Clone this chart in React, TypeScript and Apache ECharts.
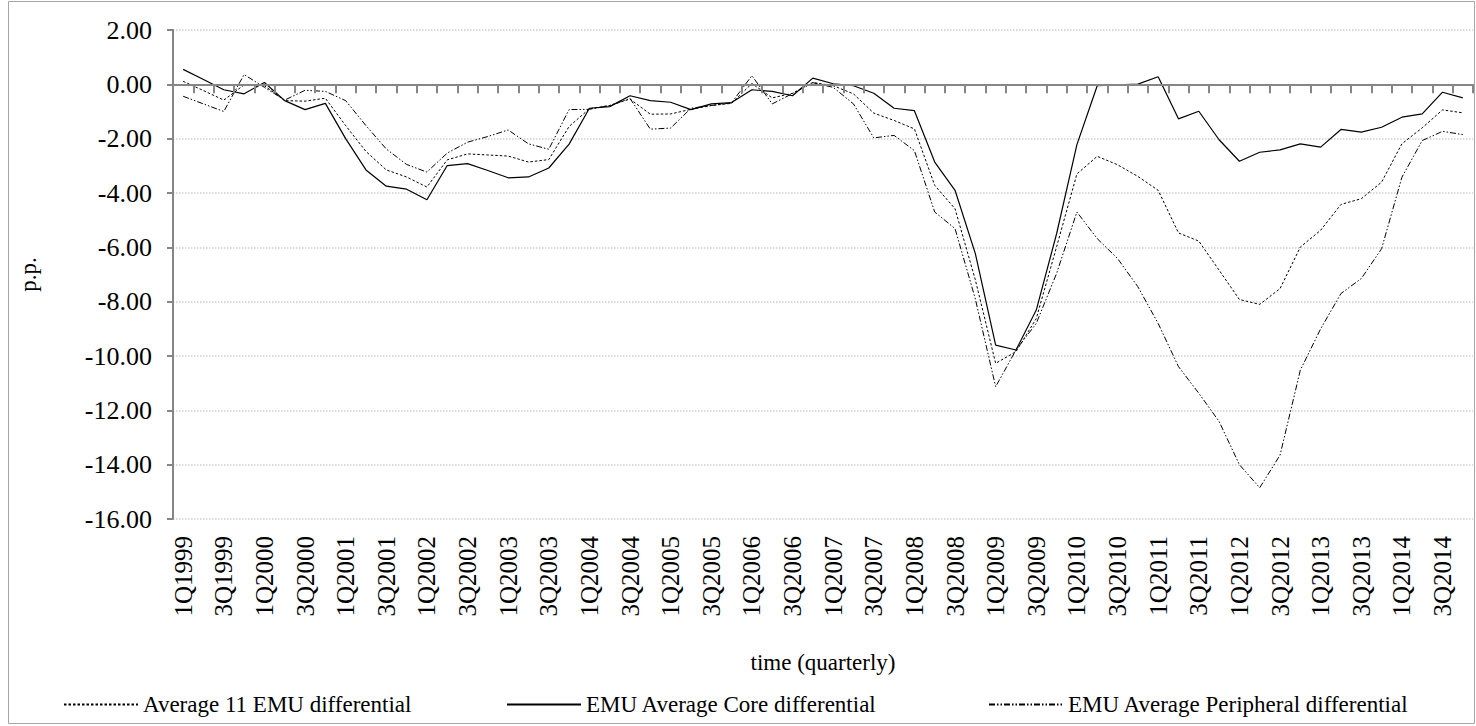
import React, { useEffect, useRef } from "react";
import * as echarts from "echarts";

const years = [1999, 2000, 2001, 2002, 2003, 2004, 2005, 2006, 2007, 2008, 2009, 2010, 2011, 2012, 2013, 2014];
const quarterNames = ["1Q", "2Q", "3Q", "4Q"];
const categories: string[] = [];
years.forEach((y) => quarterNames.forEach((q) => categories.push(q + y)));

const avg11 = [
  0.11, -0.23, -0.58, -0.02, -0.05, -0.6, -0.62, -0.51, -1.52, -2.47, -3.15, -3.41, -3.78, -2.78, -2.56, -2.6,
  -2.64, -2.86, -2.77, -1.55, -0.9, -0.78, -0.54, -1.1, -1.09, -0.92, -0.78, -0.7, 0.03, -0.5, -0.33, 0.07,
  -0.05, -0.35, -1.06, -1.33, -1.64, -3.72, -4.58, -7.2, -10.27, -9.84, -8.62, -5.98, -3.3, -2.65, -2.96, -3.39,
  -3.9, -5.47, -5.77, -6.84, -7.92, -8.1, -7.52, -5.99, -5.37, -4.42, -4.21, -3.6, -2.19, -1.6, -0.94, -1.05,
];

const core = [
  0.55, 0.18, -0.2, -0.35, 0.07, -0.6, -0.93, -0.7, -2.0, -3.15, -3.75, -3.86, -4.25, -2.99, -2.92, -3.17,
  -3.44, -3.41, -3.08, -2.2, -0.88, -0.82, -0.42, -0.6, -0.66, -0.93, -0.72, -0.67, -0.2, -0.26, -0.42, 0.23,
  0.02, -0.05, -0.33, -0.88, -0.97, -2.86, -3.9, -6.23, -9.6, -9.78, -8.31, -5.5, -2.22, -0.05, -0.02, 0.01,
  0.28, -1.27, -0.99, -2.04, -2.83, -2.5, -2.41, -2.19, -2.31, -1.66, -1.76, -1.58, -1.21, -1.09, -0.29, -0.5,
];

const peripheral = [
  -0.44, -0.72, -1.0, 0.36, -0.11, -0.58, -0.22, -0.26, -0.6, -1.52, -2.38, -2.95, -3.23, -2.53, -2.13, -1.92,
  -1.68, -2.19, -2.39, -0.93, -0.92, -0.78, -0.52, -1.65, -1.61, -0.88, -0.78, -0.68, 0.32, -0.72, -0.34, 0.06,
  -0.11, -0.72, -1.97, -1.88, -2.44, -4.7, -5.31, -7.9, -11.13, -9.78, -8.8, -6.96, -4.7, -5.68, -6.41, -7.45,
  -8.8, -10.39, -11.37, -12.41, -14.0, -14.85, -13.65, -10.52, -9.0, -7.7, -7.15, -6.05, -3.42, -2.07, -1.73, -1.85,
];

const seriesNames = [
  "Average 11 EMU differential",
  "EMU Average Core differential",
  "EMU Average Peripheral differential",
];

const yMin = -16;
const yMax = 2;
const yStep = 2;

const FONT = "'Liberation Serif', 'Times New Roman', serif";
const AXIS_GRAY = "#868686";
const legendLefts = [58, 501, 983];

export default function App() {
  const ref = useRef<HTMLDivElement>(null);

  useEffect(() => {
    if (!ref.current) return;
    const chart = echarts.init(ref.current, null, { renderer: "svg" });
    const legends = seriesNames.map((name, i) => ({
      show: true,
      left: legendLefts[i],
      top: 688,
      itemWidth: 74,
      itemHeight: 10,
      itemGap: 0,
      itemStyle: { opacity: 0 },
      textStyle: { fontSize: 23, fontFamily: FONT, color: "#000" },
      data: [name],
    }));
    const option: any = {
      animation: false,
      backgroundColor: "#ffffff",
      textStyle: { fontFamily: FONT, color: "#000" },
      grid: { left: 173, right: 3, top: 30, bottom: 207, containLabel: false },
      graphic: [
        {
          type: "rect",
          shape: { x: 8.5, y: 1.5, width: 1466, height: 722 },
          style: { fill: "none", stroke: "#a6a6a6", lineWidth: 1 },
          silent: true,
          z: -10,
        },
      ],
      xAxis: [
        {
          type: "category",
          data: categories,
          boundaryGap: true,
          position: "bottom",
          axisLine: { show: true, onZero: true, lineStyle: { color: AXIS_GRAY, width: 2 } },
          axisTick: { show: true, interval: 0, length: 9, lineStyle: { color: AXIS_GRAY, width: 2 } },
          axisLabel: { show: false },
          splitLine: { show: false },
          z: 5,
        },
        {
          type: "category",
          data: categories,
          boundaryGap: true,
          position: "bottom",
          axisLine: { show: false, onZero: false },
          axisTick: { show: false },
          axisLabel: {
            show: true,
            interval: 1,
            rotate: 90,
            fontSize: 25,
            fontFamily: FONT,
            color: "#000",
            margin: 17,
          },
          name: "time (quarterly)",
          nameLocation: "middle",
          nameGap: 132,
          nameTextStyle: { fontSize: 23, fontFamily: FONT, color: "#000" },
          splitLine: { show: false },
        },
      ],
      yAxis: {
        type: "value",
        min: yMin,
        max: yMax,
        interval: yStep,
        axisLine: { show: true, lineStyle: { color: AXIS_GRAY, width: 2 } },
        axisTick: { show: true, length: 6, lineStyle: { color: AXIS_GRAY, width: 2 } },
        axisLabel: {
          fontSize: 26,
          fontFamily: FONT,
          color: "#000",
          margin: 21,
          formatter: (v: number) => v.toFixed(2),
        },
        splitLine: { show: true, lineStyle: { color: "#d0d0d0", type: "dotted", width: 1.5 } },
        name: "p.p.",
        nameLocation: "middle",
        nameGap: 133,
        nameRotate: 90,
        nameTextStyle: { fontSize: 23, fontFamily: FONT, color: "#000" },
      },
      legend: legends,
      series: [
        {
          name: seriesNames[0],
          type: "line",
          data: avg11,
          symbol: "none",
          color: "#000",
          lineStyle: { color: "#000", width: 1, type: [2.5, 2] },
          z: 3,
        },
        {
          name: seriesNames[1],
          type: "line",
          data: core,
          symbol: "none",
          color: "#000",
          lineStyle: { color: "#000", width: 1.2, type: "solid" },
          z: 4,
        },
        {
          name: seriesNames[2],
          type: "line",
          data: peripheral,
          symbol: "none",
          color: "#000",
          lineStyle: { color: "#000", width: 1, type: [6, 2, 1.5, 2, 1.5, 2] },
          z: 2,
        },
      ],
    };
    chart.setOption(option);
    return () => chart.dispose();
  }, []);

  return (
    <div
      ref={ref}
      style={{ position: "absolute", left: 0, top: 0, width: 1476, height: 726, background: "#fff" }}
    />
  );
}
